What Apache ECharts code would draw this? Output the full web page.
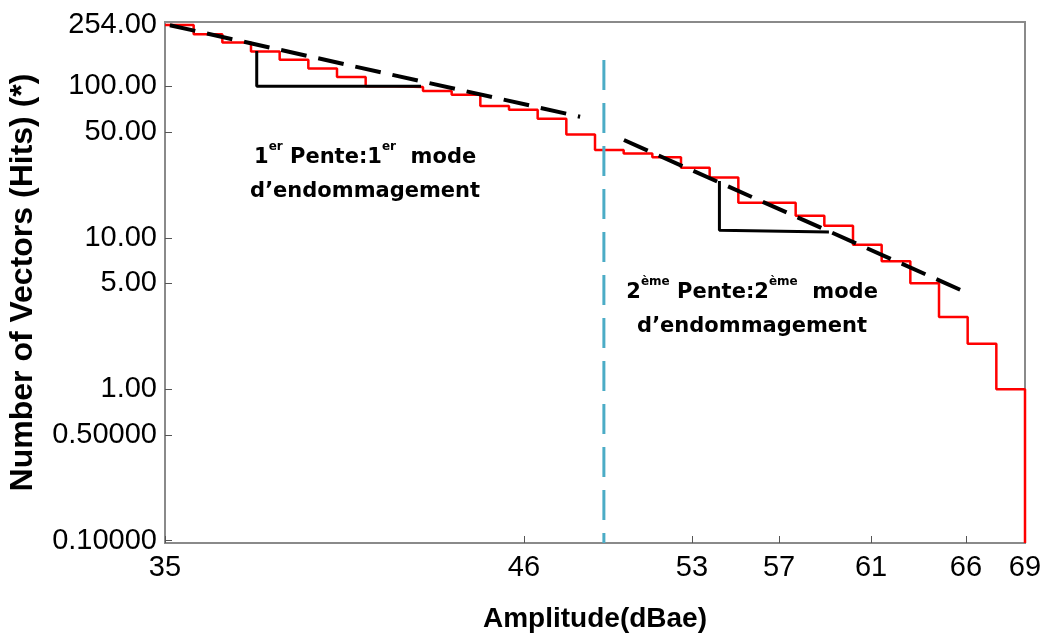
<!DOCTYPE html>
<html>
<head>
<meta charset="utf-8">
<title>Amplitude</title>
<script src="https://cdn.jsdelivr.net/npm/echarts@6.0.0/dist/echarts.min.js"></script>
<style>
html, body { margin: 0; padding: 0; background: #fff; }
#main { width: 1043px; height: 635px; }
</style>
</head>
<body>
<div id="main"></div>
<script>
// nombre de hits cumulés par classe d'amplitude (30 classes)
var binVals = [254, 221, 195, 170, 150, 131, 115, 100, 99, 93, 88, 74, 70, 61, 48,
               38, 36, 34, 29, 25, 17, 17, 14, 12, 9, 7, 5, 3, 2, 1];

// graduations de l'axe x (position en classes) et leurs libellés
var xTickPos = [0, 12.52, 18.38, 21.42, 24.63, 27.94, 30];
var xTickText = ['35', '46', '53', '57', '61', '66', '69'];

// graduations de l'axe y
var yTickVals = [0.1, 0.5, 1, 5, 10, 50, 100, 254];
var yTickText = ['0.10000', '0.50000', '1.00', '5.00', '10.00', '50.00', '100.00', '254.00'];

// droites de pente (tirets)
var fit1X = [0.17, 14.48];
var fit1Y = [253, 63];
var fit2X = [16.01, 27.84];
var fit2Y = [44.2, 4.45];

// triangles de pente
var tri1X = [3.2, 3.2, 8.93];
var tri1Y = [171, 100, 100];
var tri2X = [19.34, 19.34, 23.16];
var tri2Y = [23.7, 11.2, 10.9];

// séparation des deux modes
var splitX = 15.31;
var splitTop = 149;

// annotations
var noteX = [6.98, 20.48];
var noteY = [26, 3.36];
var noteText = [
	'{b|1}{s|er}{b| Pente:1}{s|er}{b|  mode}\n{b|d\u2019endommagement}',
	'{b|2}{s|ème}{b| Pente:2}{s|ème}{b|  mode}\n{b|d\u2019endommagement}'
];

var yMin = -1.0152;
var yMax = 2.4246;

function lg(v) {
	return Math.log(v) / Math.LN10;
}

function pairs(xs, ys) {
	var out = [];
	for (var i = 0; i < xs.length; i++) {
		out.push([xs[i], lg(ys[i])]);
	}
	return out;
}

var stepData = [];
for (var i = 0; i < binVals.length; i++) {
	stepData.push([i, lg(binVals[i])]);
}
stepData.push([binVals.length, lg(binVals[binVals.length - 1])]);
stepData.push([binVals.length, yMin]);

var noteData = [];
for (var k = 0; k < noteX.length; k++) {
	noteData.push({
		value : [noteX[k], lg(noteY[k])],
		label : { formatter : noteText[k] }
	});
}

var axisFont = 'Liberation Sans, Arial, sans-serif';
var noteFont = 'Comic Sans MS, DejaVu Sans, sans-serif';

var chart = echarts.init(document.getElementById('main'));
var option = {
	animation : false,
	backgroundColor : '#ffffff',
	grid : {
		left : 165,
		right : 18,
		top : 22,
		bottom : 92,
		outerBoundsMode : 'none',
		show : true,
		borderColor : '#8a8a8a',
		borderWidth : 2
	},
	xAxis : {
		type : 'value',
		min : 0,
		max : 30,
		name : 'Amplitude(dBae)',
		nameLocation : 'middle',
		nameGap : 62,
		nameTextStyle : {
			fontFamily : axisFont,
			fontSize : 28,
			fontWeight : 'bold',
			color : '#000'
		},
		axisLine : { onZero : false, lineStyle : { color : '#8a8a8a', width : 2 } },
		axisTick : {
			inside : true,
			length : 7,
			customValues : xTickPos,
			lineStyle : { color : '#555', width : 1 }
		},
		axisLabel : {
			customValues : xTickPos,
			margin : 10,
			fontFamily : axisFont,
			fontSize : 29,
			color : '#000',
			formatter : function(val) {
				for (var i = 0; i < xTickPos.length; i++) {
					if (Math.abs(xTickPos[i] - val) < 1e-6) {
						return xTickText[i];
					}
				}
				return '';
			}
		},
		splitLine : { show : false }
	},
	yAxis : {
		type : 'value',
		min : yMin,
		max : yMax,
		name : 'Number of Vectors (Hits) (*)',
		nameLocation : 'middle',
		nameGap : 126,
		nameTextStyle : {
			fontFamily : axisFont,
			fontSize : 32,
			fontWeight : 'bold',
			color : '#000'
		},
		axisLine : { onZero : false, lineStyle : { color : '#8a8a8a', width : 2 } },
		axisTick : {
			inside : true,
			length : 7,
			customValues : yTickVals.map(lg),
			lineStyle : { color : '#555', width : 1 }
		},
		axisLabel : {
			customValues : yTickVals.map(lg),
			margin : 8,
			fontFamily : axisFont,
			fontSize : 29,
			color : '#000',
			formatter : function(val) {
				for (var i = 0; i < yTickVals.length; i++) {
					if (Math.abs(lg(yTickVals[i]) - val) < 1e-6) {
						return yTickText[i];
					}
				}
				return '';
			}
		},
		splitLine : { show : false }
	},
	series : [
		{
			name : 'hits',
			type : 'line',
			step : 'end',
			data : stepData,
			symbol : 'none',
			silent : true,
			z : 2,
			lineStyle : { color : '#ff0000', width : 2.5 }
		}, {
			name : 'pente1',
			type : 'line',
			data : pairs(fit1X, fit1Y),
			symbol : 'none',
			silent : true,
			z : 3,
			lineStyle : { color : '#000', width : 4, type : [26, 12] }
		}, {
			name : 'pente2',
			type : 'line',
			data : pairs(fit2X, fit2Y),
			symbol : 'none',
			silent : true,
			z : 3,
			lineStyle : { color : '#000', width : 4, type : [26, 12] }
		}, {
			name : 'tri1',
			type : 'line',
			data : pairs(tri1X, tri1Y),
			symbol : 'none',
			silent : true,
			z : 4,
			lineStyle : { color : '#000', width : 3 }
		}, {
			name : 'tri2',
			type : 'line',
			data : pairs(tri2X, tri2Y),
			symbol : 'none',
			silent : true,
			z : 4,
			lineStyle : { color : '#000', width : 3 }
		}, {
			name : 'separation',
			type : 'line',
			data : [[splitX, lg(splitTop)], [splitX, yMin]],
			symbol : 'none',
			silent : true,
			z : 5,
			lineStyle : { color : '#4bacc6', width : 3, type : [30, 13] }
		}, {
			name : 'notes',
			type : 'scatter',
			data : noteData,
			symbolSize : 0,
			silent : true,
			z : 6,
			itemStyle : { opacity : 1 },
			label : {
				show : true,
				position : 'inside',
				align : 'center',
				verticalAlign : 'middle',
				color : '#000',
				textBorderWidth : 0,
				rich : {
					b : {
						fontFamily : noteFont,
						fontSize : 21,
						fontWeight : 'bold',
						color : '#000',
						textBorderWidth : 0,
						lineHeight : 34
					},
					s : {
						fontFamily : noteFont,
						fontSize : 12,
						fontWeight : 'bold',
						color : '#000',
						textBorderWidth : 0,
						verticalAlign : 'top',
						lineHeight : 26
					}
				}
			}
		}
	]
};
chart.setOption(option);
</script>
</body>
</html>
